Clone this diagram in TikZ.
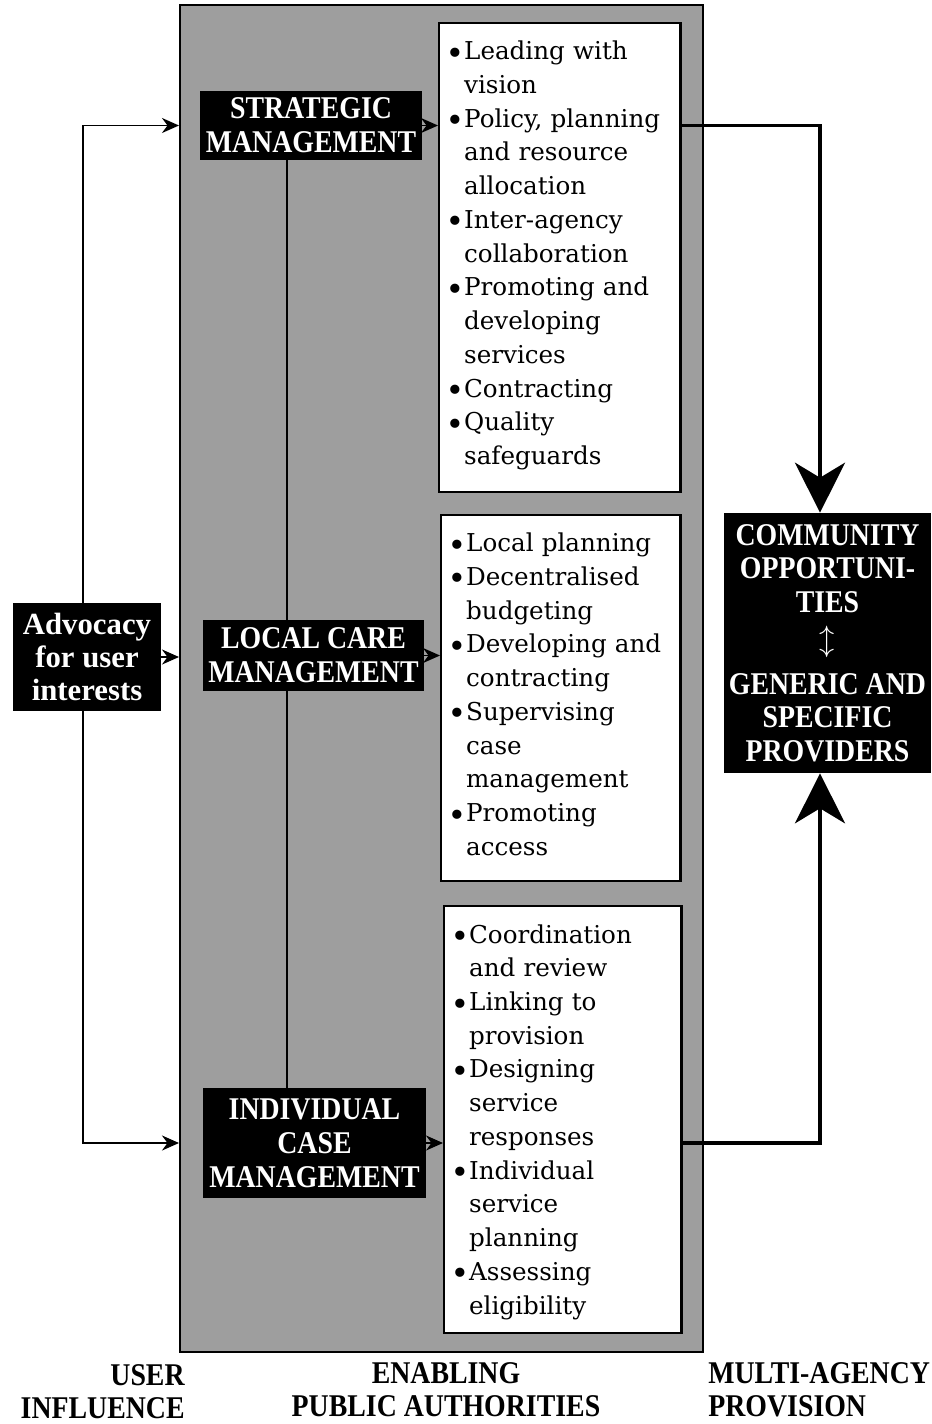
\documentclass[tikz,border=0pt]{standalone}
\usepackage{fontspec}
\setmainfont{DejaVu Serif}
\newfontfamily\headfont[FakeStretch=0.88]{Liberation Serif}
\newfontfamily\advofont{Liberation Serif}
\usetikzlibrary{arrows.meta, positioning, calc}
\definecolor{panelgray}{RGB}{158,158,158}
\newcommand{\bul}{\par\noindent\hangindent=10.5pt\hangafter=1%
  \makebox[10.5pt][l]{\raisebox{-2.6pt}{\fontsize{18}{18}\selectfont\textbullet}}}
\newcommand{\liststart}[1]{\vspace*{-#1}}

\begin{document}
\begin{tikzpicture}[x=0.02cm, y=-0.02cm,
    headbox/.style={fill=black, text=white, align=center, inner sep=2pt,
      font=\headfont\bfseries\fontsize{18}{19.2}\selectfont},
    listbox/.style={draw=black, line width=1.4pt, fill=white, anchor=north west,
      inner xsep=0.13cm, inner ysep=0.15cm, align=left, font=\fontsize{14}{19.2}\selectfont},
    smallarrow/.style={-{Stealth[length=3.4mm,width=3mm]}, line width=1.1pt},
    bigarrow/.style={-{Stealth[length=1cm,width=1cm,inset=0.3cm]}, line width=2pt},
    footlabel/.style={inner sep=0pt, font=\headfont\bfseries\fontsize{18}{18.8}\selectfont}]
  \useasboundingbox (0,0) rectangle (931,1424);

  % enabling authorities panel
  \node[draw=black, line width=1.2pt, fill=panelgray, inner sep=0pt,
    minimum width=10.46cm, minimum height=26.94cm] (panel) at (441.5,678.5) {};
  \coordinate (spine) at (287,0);
  \coordinate (userline) at (83,0);
  \coordinate (provline) at (820,0);

  % management levels
  \node[headbox, minimum width=4.44cm, minimum height=1.38cm] (strat) at (311,125.5) {STRATEGIC\\MANAGEMENT};
  \node[headbox, minimum width=4.42cm, minimum height=1.42cm] (local) at (313.5,655.5) {LOCAL CARE\\MANAGEMENT};
  \node[headbox, minimum width=4.46cm, minimum height=2.2cm] (indiv) at (314.5,1143) {INDIVIDUAL\\CASE\\MANAGEMENT};
  \draw[line width=1.1pt] (strat.south -| spine) -- (local.north -| spine);
  \draw[line width=1.1pt] (local.south -| spine) -- (indiv.north -| spine);

  % task lists
  \node[listbox, text width=4.57cm, minimum height=9.38cm] (list1) at (438,22) {\liststart{11pt}%
    \bul Leading with\newline vision
    \bul Policy, planning\newline and resource\newline allocation
    \bul Inter-agency\newline collaboration
    \bul Promoting and\newline developing\newline services
    \bul Contracting
    \bul Quality\newline safeguards\par};
  \node[listbox, text width=4.53cm, minimum height=7.32cm] (list2) at (440,514) {\liststart{13pt}%
    \bul Local planning
    \bul Decentralised\newline budgeting
    \bul Developing and\newline contracting
    \bul Supervising\newline case\newline management
    \bul Promoting\newline access\par};
  \node[listbox, text width=4.49cm, minimum height=8.54cm] (list3) at (443,905) {\liststart{6pt}%
    \bul Coordination\newline and review
    \bul Linking to\newline provision
    \bul Designing\newline service\newline responses
    \bul Individual\newline service\newline planning
    \bul Assessing\newline eligibility\par};
  \draw[smallarrow] (strat.east) -- (strat.east -| list1.west);
  \draw[smallarrow] (local.east) -- (local.east -| list2.west);
  \draw[smallarrow] (indiv.east) -- (indiv.east -| list3.west);

  % user influence
  \node[headbox, font=\advofont\bfseries\fontsize{17.5}{19}\selectfont,
    minimum width=2.96cm, minimum height=2.16cm] (advo) at (87,657) {Advocacy\\for user\\interests};
  \draw[smallarrow] (advo.north -| userline) |- (strat.west -| panel.west);
  \draw[smallarrow] (advo.south -| userline) |- (indiv.west -| panel.west);
  \draw[smallarrow] (advo.east) -- (advo.east -| panel.west);

  % multi-agency provision
  \node[headbox, minimum width=4.14cm, minimum height=5.2cm] (comm) at (827.5,643)
    {COMMUNITY\\OPPORTUNI-\\TIES\\[4pt]\raisebox{2pt}{$\updownarrow$}\\[4pt]GENERIC AND\\SPECIFIC\\PROVIDERS};
  \draw[bigarrow] (list1.east |- strat.east) -| (comm.north -| provline);
  \draw[bigarrow] (list3.east |- indiv.east) -| (comm.south -| provline);

  % column labels
  \node[footlabel, align=right, anchor=north east] (userlab) at (185,1364) {USER\\INFLUENCE};
  \node[footlabel, align=center, anchor=north] (enablab) at (446,1362) {ENABLING\\PUBLIC AUTHORITIES};
  \node[footlabel, align=left, anchor=north west] (provlab) at (708,1362) {MULTI-AGENCY\\PROVISION};
\end{tikzpicture}
\end{document}
